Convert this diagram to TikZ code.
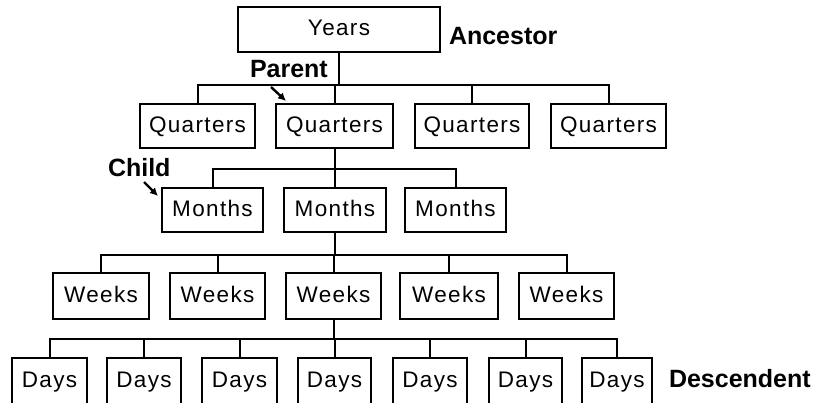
\documentclass[tikz,border=0pt]{standalone}
\usepackage{fontspec}
\setmainfont{Liberation Sans}
\newfontfamily\unitfont{Liberation Sans}[LetterSpace=6]
\usepackage{tikz}
\usetikzlibrary{arrows.meta}

\begin{document}
\begin{tikzpicture}[x=1pt, y=-1pt, line width=2pt,
    unit/.style={draw, inner sep=0pt, minimum height=44pt, text height=16pt, text depth=4pt,
      font=\unitfont\fontsize{22.5}{27}\selectfont},
    tag/.style={anchor=base west, inner sep=0pt, font=\bfseries\fontsize{25}{30}\selectfont},
    pointer/.style={-{Latex[length=8pt,width=8pt]}, line width=2.4pt}]
  \useasboundingbox (0,0) rectangle (820,402);
  % levels
  \node[unit, minimum width=202pt, minimum height=45pt] (yr) at (339,29.5) {Years};
  \node[unit, minimum width=115pt] (q1) at (197.5,126) {Quarters};
  \node[unit, minimum width=117pt] (q2) at (334.5,126) {Quarters};
  \node[unit, minimum width=114pt] (q3) at (472,126) {Quarters};
  \node[unit, minimum width=115pt] (q4) at (608.5,126) {Quarters};
  \node[unit, minimum width=101pt] (m1) at (212.5,210) {Months};
  \node[unit, minimum width=102pt] (m2) at (335,210) {Months};
  \node[unit, minimum width=101pt] (m3) at (455.5,210) {Months};
  \node[unit, minimum width=96pt, minimum height=46pt] (w1) at (101,296) {Weeks};
  \node[unit, minimum width=95pt, minimum height=46pt] (w2) at (217.5,296) {Weeks};
  \node[unit, minimum width=95pt, minimum height=46pt] (w3) at (333.5,296) {Weeks};
  \node[unit, minimum width=98pt, minimum height=46pt] (w4) at (449,296) {Weeks};
  \node[unit, minimum width=95pt, minimum height=46pt] (w5) at (566.5,296) {Weeks};
  \node[unit, minimum width=75pt, minimum height=46pt] (d1) at (49.5,381) {Days};
  \node[unit, minimum width=74pt, minimum height=46pt] (d2) at (144,381) {Days};
  \node[unit, minimum width=75pt, minimum height=46pt] (d3) at (239.5,381) {Days};
  \node[unit, minimum width=73pt, minimum height=46pt] (d4) at (334.5,381) {Days};
  \node[unit, minimum width=74pt, minimum height=46pt] (d5) at (430,381) {Days};
  \node[unit, minimum width=73pt, minimum height=46pt] (d6) at (525.5,381) {Days};
  \node[unit, minimum width=70pt, minimum height=46pt] (d7) at (617,381) {Days};
  % branches
  \foreach \c in {q1,q2,q3,q4}
    \draw (yr.south) -- ++(0,32) -| (\c.north);
  \foreach \c in {m1,m2,m3}
    \draw (q2.south) -- ++(0,20) -| (\c.north);
  \foreach \c in {w1,w2,w3,w4,w5}
    \draw (m2.south) -- ++(0,22) -| (\c.north);
  \foreach \c in {d1,d2,d3,d4,d5,d6,d7}
    \draw (w3.south) -- ++(0,19) -| (\c.north);
  % labels
  \node[tag] (anc) at (448,44) {Ancestor};
  \node[tag] (par) at (249,77.5) {Parent};
  \node[tag] (chl) at (107,176) {Child};
  \node[tag] (dsc) at (668,387) {Descendent};
  % pointers
  \coordinate (pa) at (271,87);
  \coordinate (pb) at (286,101);
  \coordinate (ca) at (144,182);
  \coordinate (cb) at (158,196);
  \draw[pointer] (pa) -- (pb);
  \draw[pointer] (ca) -- (cb);
\end{tikzpicture}
\end{document}
